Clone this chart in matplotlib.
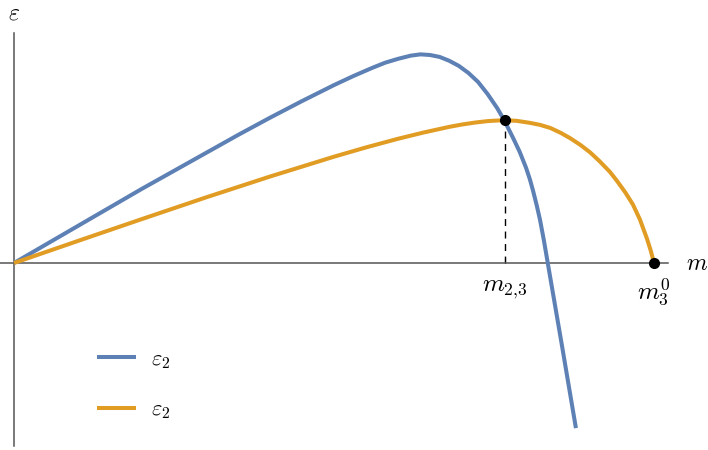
import numpy as np
import matplotlib
matplotlib.use("Agg")
import matplotlib.pyplot as plt

plt.rcParams['mathtext.fontset'] = 'cm'

# Curve samples (m, epsilon)
m_blue = [0.0, 0.05, 0.10, 0.15, 0.20, 0.25, 0.30, 0.35, 0.40, 0.45,
          0.50, 0.53, 0.56, 0.58, 0.60, 0.62, 0.635, 0.65, 0.665, 0.68,
          0.695, 0.71, 0.725, 0.74, 0.755, 0.766, 0.78, 0.79, 0.80, 0.806,
          0.811, 0.817, 0.822, 0.828, 0.834, 0.845, 0.856, 0.867, 0.878]
eps_blue = [0.0, 0.029, 0.058, 0.087, 0.116, 0.144, 0.172, 0.200, 0.227, 0.253,
            0.278, 0.292, 0.305, 0.313, 0.319, 0.324, 0.326, 0.325, 0.322, 0.316,
            0.308, 0.297, 0.283, 0.264, 0.242, 0.223, 0.195, 0.174, 0.149, 0.131,
            0.113, 0.089, 0.067, 0.035, 0.0, -0.064, -0.128, -0.193, -0.258]

m_orange = [0.0, 0.10, 0.20, 0.30, 0.40, 0.50, 0.55, 0.60, 0.64, 0.68,
            0.70, 0.72, 0.74, 0.755, 0.767, 0.785, 0.806, 0.822, 0.838, 0.854,
            0.869, 0.885, 0.900, 0.915, 0.931, 0.942, 0.955, 0.967, 0.978, 0.989,
            0.995, 1.0]
eps_orange = [0.0, 0.0345, 0.0687, 0.1025, 0.1351, 0.1661, 0.1806, 0.1941, 0.2039, 0.2127,
              0.2164, 0.2194, 0.2217, 0.2226, 0.223, 0.2222, 0.219, 0.2158, 0.211, 0.2035,
              0.195, 0.1845, 0.173, 0.159, 0.1425, 0.1285, 0.1105, 0.0915, 0.068, 0.038,
              0.019, 0.0]

# Special points
m23 = 0.767
eps23 = 0.223
m30 = 1.0

blue = '#5E81B5'
orange = '#E19C24'
axis_col = '#555555'

fig = plt.figure(figsize=(7.08, 4.5), dpi=100)
# axes spanning pixel x 0..668 and y 33..446
ax = fig.add_axes([0 / 708, (450 - 446) / 450, 668 / 708, (446 - 33) / 450])
ax.set_xlim(-14 / 640, 654 / 640)
ax.set_ylim(-183 / 640, 230 / 640)

ax.plot(m_blue, eps_blue, color=blue, lw=2.9, label=r'$\varepsilon_2$',
        solid_capstyle='butt', solid_joinstyle='round', zorder=3)
ax.plot(m_orange, eps_orange, color=orange, lw=2.9, label=r'$\varepsilon_2$',
        solid_capstyle='butt', solid_joinstyle='round', zorder=3)

ax.plot([m23, m23], [0, eps23], color='black', lw=1.0, ls=(0, (5, 4)), zorder=2)
ax.plot([m23, m30], [eps23, 0], 'o', color='black', ms=7, zorder=4)

for s in ['top', 'right']:
    ax.spines[s].set_visible(False)
ax.spines['left'].set_position(('data', 0))
ax.spines['bottom'].set_position(('data', 0))
ax.spines['left'].set_color(axis_col)
ax.spines['bottom'].set_color(axis_col)
ax.spines['left'].set_linewidth(1.1)
ax.spines['bottom'].set_linewidth(1.1)

ax.set_yticks([])
ax.set_xticks([m23, m30])
ax.set_xticklabels([r'$m_{2{,}3}$', r'$m_3^0$'], fontsize=18)
ax.tick_params(axis='x', direction='in', length=4, width=0.8, color='black', pad=10)
ax.xaxis.get_major_ticks()[1].tick1line.set_visible(False)

fig.text(14 / 708, 1 - 13 / 450, r'$\varepsilon$', fontsize=17, ha='center', va='center')
fig.text(697 / 708, 1 - 263 / 450, r'$m$', fontsize=17, ha='center', va='center')

ax.legend(loc='upper left', bbox_to_anchor=(77 / 668, 1 - (329 - 33) / 413),
          frameon=False, fontsize=16, handlelength=1.75, handletextpad=0.7,
          labelspacing=1.3)

fig.savefig('out.png', dpi=100)
